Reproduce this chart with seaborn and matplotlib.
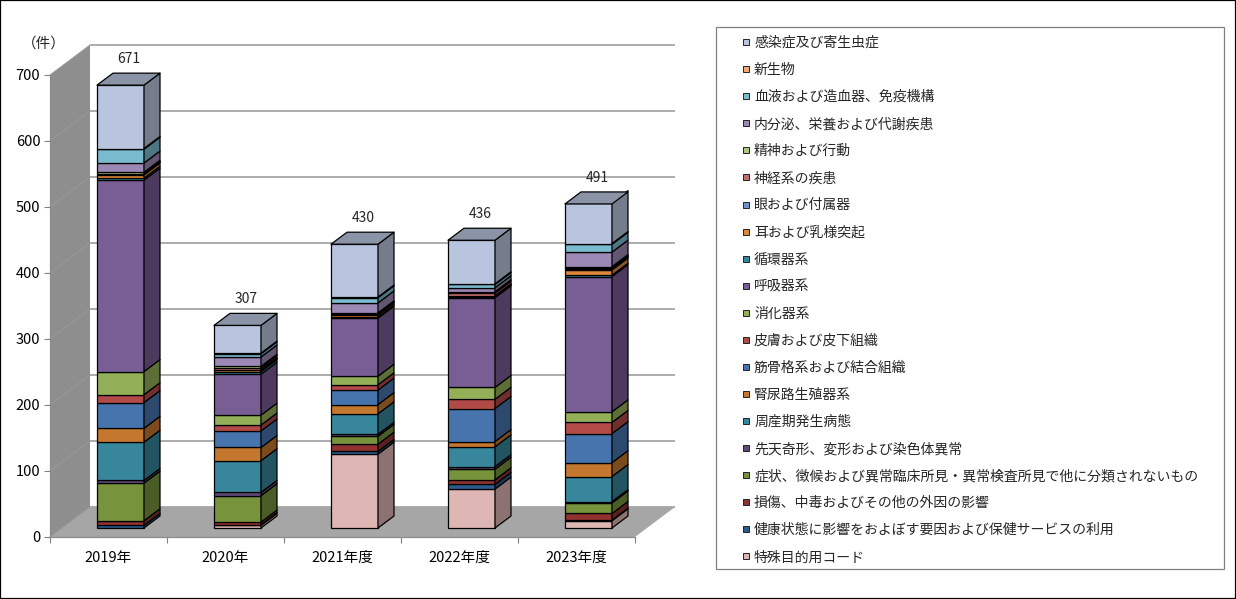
import matplotlib
matplotlib.use("Agg")
import matplotlib.pyplot as plt
from matplotlib.colors import to_rgb
from matplotlib.lines import Line2D
from matplotlib.patches import Polygon, Rectangle
import numpy as np
import pandas as pd
import seaborn as sns

years = ["2019年", "2020年", "2021年度", "2022年度", "2023年度"]
totals = [671, 307, 430, 436, 491]

# legend order, top of the stack first
diseases = [
    "感染症及び寄生虫症", "新生物", "血液および造血器、免疫機構", "内分泌、栄養および代謝疾患",
    "精神および行動", "神経系の疾患", "眼および付属器", "耳および乳様突起", "循環器系", "呼吸器系",
    "消化器系", "皮膚および皮下組織", "筋骨格系および結合組織", "腎尿路生殖器系", "周産期発生病態",
    "先天奇形、変形および染色体異常", "症状、徴候および異常臨床所見・異常検査所見で他に分類されないもの",
    "損傷、中毒およびその他の外因の影響", "健康状態に影響をおよぼす要因および保健サービスの利用", "特殊目的用コード",
]
kansen = [96, 42, 80, 66, 62]
shinsei = [1, 1, 1, 1, 1]
ketsueki = [21, 5, 8, 5, 12]
naibunpi = [14, 14, 15, 6, 22]
seishin = [2, 2, 1, 2, 2]
shinkei = [1, 3, 1, 4, 1]
me = [1, 1, 1, 1, 2]
mimi = [5, 2, 3, 1, 8]
junkan = [3, 4, 2, 1, 2]
kokyu = [290, 62, 88, 136, 205]
shoka = [35, 15, 13, 18, 16]
hifu = [12, 9, 8, 14, 17]
kinkotsu = [39, 25, 22, 50, 44]
jinnyo = [21, 20, 14, 8, 21]
shusanki = [58, 48, 31, 30, 38]
senten = [4, 5, 3, 4, 2]
shojo = [57, 40, 12, 16, 16]
sonsho = [7, 4, 11, 7, 10]
kenko = [4, 1, 4, 7, 1]
tokushu = [0, 4, 112, 59, 11]
series = [kansen, shinsei, ketsueki, naibunpi, seishin, shinkei, me, mimi, junkan, kokyu,
          shoka, hifu, kinkotsu, jinnyo, shusanki, senten, shojo, sonsho, kenko, tokushu]

colors = ["#B9C5DF", "#F3AB75", "#7BBBD0", "#9C88B4", "#B0C77F", "#C76E6C", "#6F93C8", "#E0863A",
          "#35869B", "#795E95", "#93B058", "#B24A48", "#4874AE", "#C4772F", "#37869C", "#5F497A",
          "#77933C", "#8F3230", "#2C5A8C", "#DEB7B5"]

rows = []
for name, values in zip(diseases, series):
    for year, value in zip(years, values):
        rows.append({"year": year, "disease": name, "count": value})
df = pd.DataFrame(rows)

sns.set_theme(style="white")
plt.rcParams["font.family"] = ["Noto Sans CJK JP", "DejaVu Sans"]

W, H = 1236, 599
fig = plt.figure(figsize=(W / 100, H / 100), dpi=100, facecolor="white")


def px_box(left, top, right, bottom):
    return [left / W, 1 - bottom / H, (right - left) / W, (bottom - top) / H]


# front plane of the chart, pixels 50..635 and 537..75
ax = fig.add_axes(px_box(50, 75, 635, 537))
ax.set_xlim(-0.5, 4.5)
ax.set_ylim(0, 700)
x_unit = 585 / 5
y_unit = 462 / 700

wall_dx, wall_dy = 40 / x_unit, 30 / y_unit
ax.add_patch(Polygon([(-0.5, 0), (-0.5 + wall_dx, wall_dy), (-0.5 + wall_dx, 700 + wall_dy), (-0.5, 700)],
                     fc="#8E8E8E", ec="none", clip_on=False, zorder=1))
ax.add_patch(Polygon([(-0.5, 0), (4.5, 0), (4.5 + wall_dx, wall_dy), (-0.5 + wall_dx, wall_dy)],
                     fc="#A6A6A6", ec="none", clip_on=False, zorder=1))
for tick in range(0, 800, 100):
    ax.plot([-0.5 + wall_dx, 4.5 + wall_dx], [tick + wall_dy] * 2, color="#A6A6A6", lw=1.3,
            clip_on=False, zorder=1.5, solid_capstyle="butt")
    ax.plot([-0.5, -0.5 + wall_dx], [tick, tick + wall_dy], color="#999999", lw=0.7,
            clip_on=False, zorder=1.5)

ax.set_yticks(range(0, 800, 100))
ax.set_xticks(np.arange(-0.5, 5, 1))
ax.set_xticklabels([])
ax.set_xticks(range(5), labels=years, minor=True)
ax.tick_params(axis="x", which="major", length=4, width=0.8, color="#808080", bottom=True)
ax.tick_params(axis="x", which="minor", length=0, labelsize=10.5, pad=10, labelcolor="black")
ax.tick_params(axis="y", length=4, width=0.8, color="#808080", left=True, labelsize=10.5, pad=3,
               labelcolor="black")
ax.set_xlabel("")
ax.set_ylabel("")
sns.despine(ax=ax, top=True, right=True)
for side in ["left", "bottom"]:
    ax.spines[side].set_color("#8C8C8C")
    ax.spines[side].set_linewidth(0.9)
    ax.spines[side].set_zorder(1.6)
ax.patch.set_visible(False)
fig.text(44 / W, 1 - 44 / H, "（件）", ha="center", va="center", fontsize=10.5)

# bars stand 12px in and 9px up from the front plane
ax_bars = fig.add_axes(px_box(62, 66, 647, 528))
ax_bars.patch.set_visible(False)
sns.histplot(data=df, x="year", hue="disease", weights="count", hue_order=diseases,
             palette=dict(zip(diseases, colors)), multiple="stack", discrete=True, shrink=47 / x_unit,
             alpha=1, edgecolor="black", linewidth=0.9, legend=False, ax=ax_bars)
ax_bars.set_xlim(-0.5, 4.5)
ax_bars.set_ylim(0, 700)
ax_bars.set_axis_off()

bar_dx, bar_dy = 16 / x_unit, 12 / y_unit
for bar in list(ax_bars.patches):
    h = bar.get_height()
    if h <= 0:
        continue
    x0, y0, w = bar.get_x(), bar.get_y(), bar.get_width()
    front = np.array(to_rgb(bar.get_facecolor()[:3]))
    bar.set_clip_on(False)
    x1, y1 = x0 + w, y0 + h
    ax_bars.add_patch(Polygon([(x1, y0), (x1 + bar_dx, y0 + bar_dy), (x1 + bar_dx, y1 + bar_dy), (x1, y1)],
                              fc=front * 0.63, ec="black", lw=0.9, clip_on=False, joinstyle="round"))
for i, total in enumerate(totals):
    # lid of the stack, coloured from its top band
    x0 = i - 47 / x_unit / 2
    x1 = i + 47 / x_unit / 2
    lid = np.array(to_rgb(colors[0])) * 0.75
    ax_bars.add_patch(Polygon([(x0, total), (x1, total), (x1 + bar_dx, total + bar_dy), (x0 + bar_dx, total + bar_dy)],
                              fc=lid, ec="black", lw=0.9, clip_on=False, joinstyle="round"))
    ax_bars.annotate(str(total), (i, total), xytext=(8.5 * 0.72, 26 * 0.72), textcoords="offset points",
                     ha="center", va="center", fontsize=10, annotation_clip=False)

# legend sits in its own ruled box
fig.add_artist(Rectangle((716 / W, 1 - 569 / H), 508 / W, 542 / H, transform=fig.transFigure,
                         fc="white", ec="#808080", lw=0.9, zorder=2))
handles = [Line2D([], [], ls="none", marker="s", ms=4.3, mfc=c, mec="#222222", mew=0.7) for c in colors]
leg = fig.legend(handles, diseases, loc="upper left", bbox_to_anchor=(741 / W, 1 - 36 / H),
                 frameon=False, fontsize=10, labelspacing=0.941, handlelength=0.72, handletextpad=0.22,
                 borderpad=0, borderaxespad=0)
leg.set_zorder(3)

fig.add_artist(Rectangle((0, 0), 1, 1, transform=fig.transFigure, fill=False, ec="black", lw=1.6, zorder=5))

fig.savefig("out.png", dpi=100)
